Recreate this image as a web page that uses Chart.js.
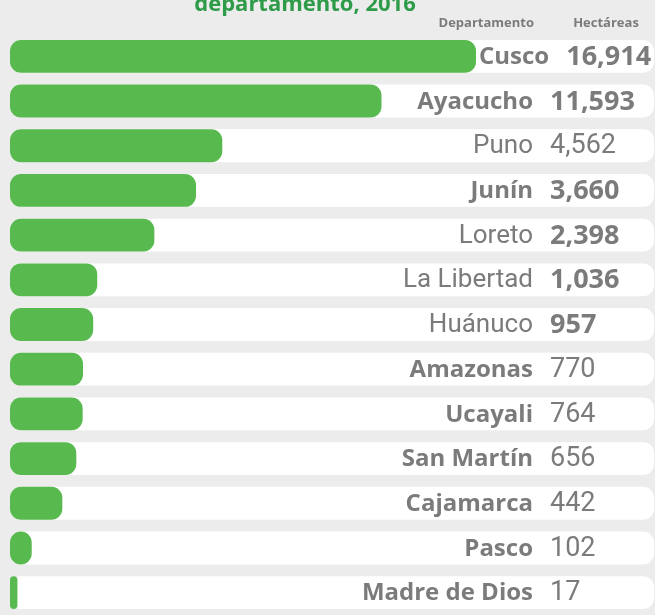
<!DOCTYPE html>
<html>
<head>
<meta charset="utf-8">
<script src="https://cdn.jsdelivr.net/npm/chart.js@4.4.1/dist/chart.umd.min.js"></script>
<style>
  html, body { margin: 0; padding: 0; background: #ececec; }
  #wrap { width: 655px; height: 615px; position: relative; }
</style>
</head>
<body>
<div id="wrap"><canvas id="c"></canvas></div>
<script>
// ---- data ----
const departamentos = ['Cusco', 'Ayacucho', 'Puno', 'Junín', 'Loreto', 'La Libertad', 'Huánuco',
  'Amazonas', 'Ucayali', 'San Martín', 'Cajamarca', 'Pasco', 'Madre de Dios'];
const hectareas = [16914, 11593, 4562, 3660, 2398, 1036, 957, 770, 764, 656, 442, 102, 17];
const titleText = 'departamento, 2016';
const headerDepto = 'Departamento';
const headerHa = 'Hectáreas';

// ---- styles (kept apart from data) ----
const labelBold = [true, true, false, true, false, false, false, true, true, true, true, true, true];
const valueBold = [true, true, false, true, true, true, true, false, false, false, false, false, false];
const GREEN = '#58b94f';
const GRAY = '#7b7b7b';
const X_MAX = 29000;
const EXPONENT = 0.6;

// power scale (bars in the reference are drawn on a compressed, non-linear scale)
class PowerScale extends Chart.LinearScale {
  getPixelForValue(value) {
    if (value === null || value === undefined) return NaN;
    const lo = Math.pow(Math.max(this.min, 0), EXPONENT);
    const hi = Math.pow(this.max, EXPONENT);
    const v = Math.pow(Math.max(value, 0), EXPONENT);
    return this.getPixelForDecimal((v - lo) / (hi - lo));
  }
  getValueForPixel(pixel) {
    const lo = Math.pow(Math.max(this.min, 0), EXPONENT);
    const hi = Math.pow(this.max, EXPONENT);
    const d = this.getDecimalForPixel(pixel);
    return Math.pow(lo + d * (hi - lo), 1 / EXPONENT);
  }
}
PowerScale.id = 'power';
PowerScale.defaults = Chart.LinearScale.defaults;
Chart.register(PowerScale);

const textPlugin = {
  id: 'texts',
  afterDatasetsDraw(chart) {
    const ctx = chart.ctx;
    const yScale = chart.scales.y;
    const meta = chart.getDatasetMeta(1);
    ctx.save();
    ctx.fillStyle = GRAY;
    ctx.textBaseline = 'middle';
    departamentos.forEach((name, i) => {
      const y = yScale.getPixelForValue(i) + 1;
      const barEnd = meta.data[i].x;
      ctx.font = labelBold[i] ? "bold 24px 'Open Sans'" : "26px Roboto";
      const w = ctx.measureText(name).width;
      const right = Math.max(533, barEnd + 3 + w);
      ctx.textAlign = 'right';
      ctx.fillText(name, right, y);
      ctx.font = valueBold[i] ? "bold 27px 'Open Sans'" : "27px Roboto";
      ctx.textAlign = 'left';
      ctx.fillText(hectareas[i].toLocaleString('en-US'), right + 17, y);
    });
    // headers
    ctx.font = "bold 13px 'Open Sans'";
    ctx.textBaseline = 'alphabetic';
    ctx.textAlign = 'right';
    ctx.fillText(headerDepto, 534, 27);
    ctx.textAlign = 'center';
    ctx.fillText(headerHa, 606, 27);
    // title (second line, partly cut at top)
    ctx.fillStyle = '#2e9b48';
    ctx.font = "bold 22px 'Open Sans'";
    ctx.textAlign = 'center';
    ctx.fillText(titleText, 305, 11);
    ctx.restore();
  }
};

new Chart(document.getElementById('c'), {
  type: 'bar',
  data: {
    labels: departamentos,
    datasets: [
      {
        label: 'track',
        data: departamentos.map(() => X_MAX),
        backgroundColor: '#ffffff',
        borderRadius: 11,
        borderSkipped: false,
        grouped: false,
        order: 2,
        barPercentage: 0.735,
        categoryPercentage: 1
      },
      {
        label: 'Hectáreas',
        data: hectareas,
        backgroundColor: GREEN,
        borderRadius: 11,
        borderSkipped: false,
        grouped: false,
        order: 1,
        barPercentage: 0.735,
        categoryPercentage: 1
      }
    ]
  },
  options: {
    indexAxis: 'y',
    responsive: true,
    maintainAspectRatio: false,
    animation: false,
    layout: { padding: { left: 10, right: 1, top: 34, bottom: -5 } },
    scales: {
      x: { type: 'power', min: 0, max: X_MAX, display: false },
      y: { type: 'category', display: false, offset: true }
    },
    plugins: { legend: { display: false }, tooltip: { enabled: false }, title: { display: false } }
  },
  plugins: [textPlugin]
});
</script>
</body>
</html>
